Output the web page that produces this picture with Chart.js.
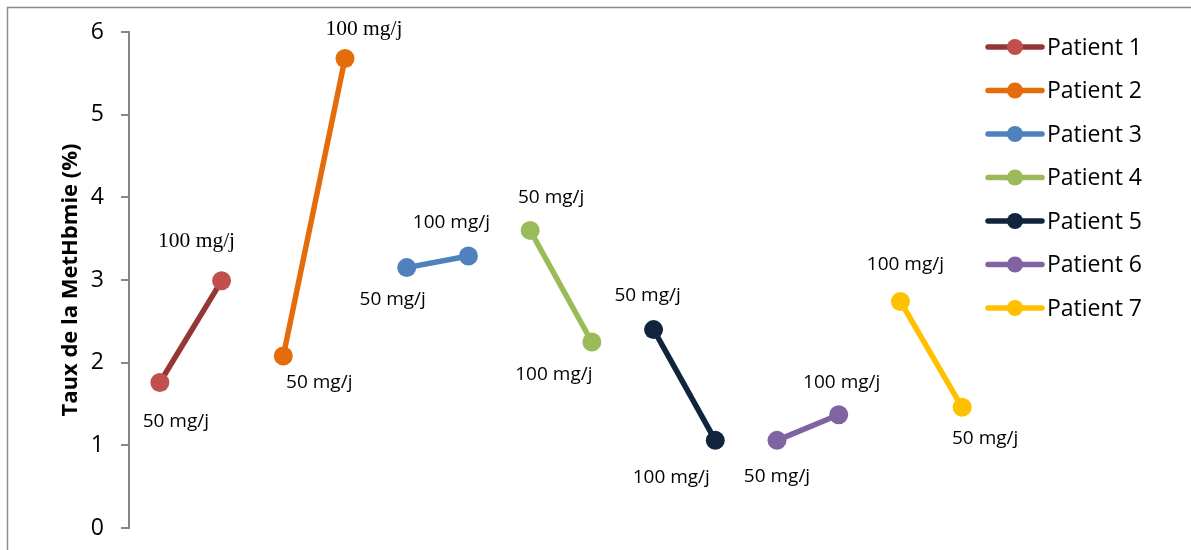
<!DOCTYPE html>
<html lang="fr">
<head>
<meta charset="UTF-8">
<title>Taux de MetHb</title>
<script src="https://cdn.jsdelivr.net/npm/chart.js"></script>
<style>
    html, body { margin: 0; padding: 0; background: #fff; }
    #wrap { width: 1191px; height: 550px; }
</style>
</head>
<body>
<div id="wrap"><canvas id="chart" width="1191" height="550"></canvas></div>
<script>
// data
const patients = ['Patient 1', 'Patient 2', 'Patient 3', 'Patient 4', 'Patient 5', 'Patient 6', 'Patient 7'];
const firstValues = [1.76, 2.08, 3.15, 3.60, 2.40, 1.06, 2.74];
const secondValues = [2.99, 5.68, 3.29, 2.25, 1.06, 1.37, 1.46];
const firstDoses = ['50 mg/j', '50 mg/j', '50 mg/j', '50 mg/j', '50 mg/j', '50 mg/j', '100 mg/j'];
const secondDoses = ['100 mg/j', '100 mg/j', '100 mg/j', '100 mg/j', '100 mg/j', '100 mg/j', '50 mg/j'];
const slots = ['1a', '1b', '2a', '2b', '3a', '3b', '4a', '4b', '5a', '5b', '6a', '6b', '7a', '7b'];
const yTicks = [0, 1, 2, 3, 4, 5, 6];

// styling
const lineColors = ['#953735', '#E46C0A', '#4F81BD', '#9BBB59', '#10243E', '#8064A2', '#FFC000'];
const pointColors = ['#C0504D', '#E46C0A', '#4F81BD', '#9BBB59', '#10243E', '#8064A2', '#FFC000'];
const sans = '"Open Sans", "Liberation Sans", sans-serif';
const serif = '"Liberation Serif", serif';
// label placement [dx, dy] from the point, and whether the label is set in serif
const labelShift = [
    [[16, 39], [-25, -39]],
    [[36, 27], [19, -29]],
    [[-14, 32], [-17, -33]],
    [[21, -33], [-38, 33]],
    [[-6, -34], [-44, 37]],
    [[0, 36], [3, -32]],
    [[5, -37], [23, 31]]
];
const serifLabel = [[false, true], [false, true], [false, false], [false, false], [false, false], [false, false], [false, false]];

const datasets = patients.map((name, i) => {
    const data = slots.map(() => null);
    data[2 * i] = firstValues[i];
    data[2 * i + 1] = secondValues[i];
    return {
        label: name,
        data: data,
        borderColor: lineColors[i],
        backgroundColor: pointColors[i],
        pointBackgroundColor: pointColors[i],
        pointBorderColor: pointColors[i],
        borderWidth: 5.5,
        pointRadius: 9.5,
        pointBorderWidth: 0,
        spanGaps: false
    };
});

const framePlugin = {
    id: 'frame',
    beforeDraw(chart) {
        const ctx = chart.ctx;
        ctx.save();
        ctx.strokeStyle = '#8c8c8c';
        ctx.lineWidth = 1.5;
        ctx.beginPath();
        ctx.moveTo(7.5, 550);
        ctx.lineTo(7.5, 7.5);
        ctx.lineTo(1191, 7.5);
        ctx.stroke();
        ctx.restore();
    }
};

const doseLabels = {
    id: 'doseLabels',
    afterDatasetsDraw(chart) {
        const ctx = chart.ctx;
        ctx.save();
        ctx.fillStyle = '#000';
        ctx.textAlign = 'center';
        ctx.textBaseline = 'middle';
        chart.data.datasets.forEach((ds, i) => {
            const meta = chart.getDatasetMeta(i);
            [0, 1].forEach(j => {
                const pt = meta.data[2 * i + j];
                const text = j === 0 ? firstDoses[i] : secondDoses[i];
                ctx.font = serifLabel[i][j] ? '21.5px ' + serif : '19px ' + sans;
                ctx.fillText(text, pt.x + labelShift[i][j][0], pt.y + labelShift[i][j][1]);
            });
        });
        ctx.restore();
    }
};

const sideLegend = {
    id: 'sideLegend',
    afterDraw(chart) {
        const ctx = chart.ctx;
        ctx.save();
        chart.data.datasets.forEach((ds, i) => {
            const y = 47 + i * 43.5;
            ctx.strokeStyle = ds.borderColor;
            ctx.lineWidth = 5.5;
            ctx.lineCap = 'round';
            ctx.beginPath();
            ctx.moveTo(988, y);
            ctx.lineTo(1042, y);
            ctx.stroke();
            ctx.fillStyle = ds.pointBackgroundColor;
            ctx.beginPath();
            ctx.arc(1015, y, 8, 0, Math.PI * 2);
            ctx.fill();
            ctx.fillStyle = '#000';
            ctx.font = '23px ' + sans;
            ctx.textAlign = 'left';
            ctx.textBaseline = 'middle';
            ctx.fillText(ds.label, 1047, y + 1);
        });
        ctx.restore();
    }
};

new Chart(document.getElementById('chart'), {
    type: 'line',
    data: { labels: slots, datasets: datasets },
    options: {
        responsive: false,
        animation: false,
        layout: { padding: { top: 32, right: 198, bottom: 22, left: 0 } },
        plugins: { legend: { display: false }, tooltip: { enabled: false } },
        scales: {
            x: { type: 'category', offset: true, display: false },
            y: {
                min: yTicks[0],
                max: yTicks[yTicks.length - 1],
                afterBuildTicks(s) { s.ticks = yTicks.map(v => ({ value: v })); },
                afterFit(s) {
                    s.width = 129;
                    s.paddingTop = 0;
                    s.paddingBottom = 0;
                },
                ticks: { color: '#000', padding: 17, font: { family: sans, size: 23 } },
                border: { color: '#868686', width: 2 },
                grid: { drawOnChartArea: false, drawTicks: true, tickLength: 8, color: '#868686', lineWidth: 2 },
                title: {
                    display: true,
                    text: 'Taux de la MetHbmie (%)',
                    color: '#000',
                    font: { family: sans, size: 22, weight: 'bold' },
                    padding: { top: 58, bottom: 0 }
                }
            }
        }
    },
    plugins: [framePlugin, doseLabels, sideLegend]
});
</script>
</body>
</html>
